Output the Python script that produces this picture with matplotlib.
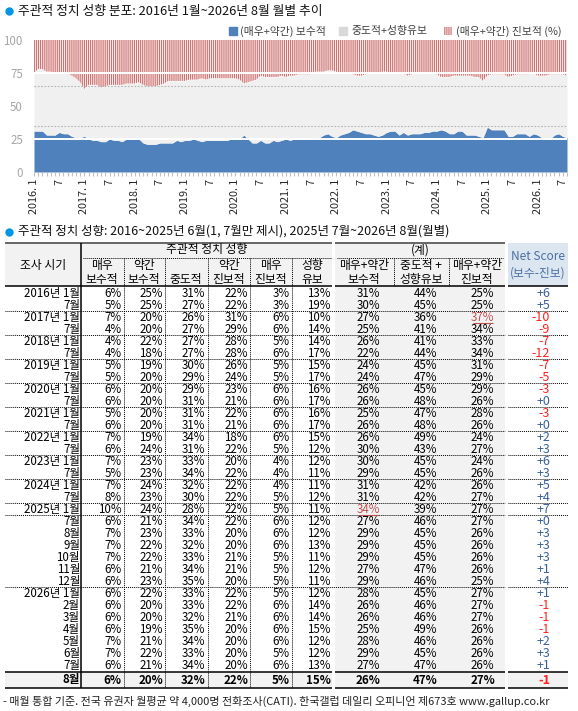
import numpy as np
import matplotlib.pyplot as plt
from matplotlib.patches import Rectangle

plt.rcParams['font.family'] = ['Noto Sans CJK KR', 'DejaVu Sans']
plt.rcParams['axes.unicode_minus'] = False
plt.rcParams['hatch.linewidth'] = 0.9

# ---- 월별 추이 (2016.1 ~ 2026.8), 그림에서 읽은 값 ----
start_year = 2016
cons_monthly = [
    31, 31, 31, 28, 28, 28, 30, 29, 29, 27, 26, 26,   # 2016
    27, 25, 24, 24, 23, 23, 25, 24, 24, 23, 25, 25,   # 2017
    26, 25, 22, 21, 21, 21, 22, 22, 22, 22, 24, 23,   # 2018
    24, 24, 25, 24, 23, 24, 24, 24, 24, 24, 24, 25,   # 2019
    26, 25, 28, 25, 22, 22, 24, 22, 22, 24, 23, 24,   # 2020
    25, 24, 25, 25, 26, 25, 26, 26, 26, 28, 29, 27,   # 2021
    26, 28, 29, 30, 32, 31, 30, 29, 29, 28, 27, 28,   # 2022
    30, 31, 31, 28, 30, 28, 29, 29, 29, 30, 30, 31,   # 2023
    31, 32, 31, 29, 29, 31, 31, 28, 28, 28, 27, 26,   # 2024
    34, 32, 32, 32, 32, 27, 27, 29, 29, 29, 27, 29,   # 2025
    28, 26, 26, 25, 28, 29, 27, 26,                   # 2026
]
prog_monthly = [
    25, 22, 22, 24, 24, 25, 25, 25, 25, 27, 29, 32,
    37, 34, 34, 34, 36, 35, 34, 34, 34, 34, 33, 33,
    33, 32, 34, 35, 35, 35, 34, 33, 31, 31, 31, 31,
    31, 30, 30, 30, 29, 30, 29, 29, 29, 29, 29, 29,
    29, 30, 33, 32, 31, 30, 27, 28, 28, 28, 28, 27,
    28, 27, 27, 26, 26, 26, 26, 24, 24, 24, 23, 23,
    24, 25, 25, 25, 26, 27, 27, 26, 25, 25, 25, 24,
    24, 25, 25, 25, 25, 27, 26, 25, 26, 25, 25, 25,
    26, 28, 28, 28, 27, 27, 27, 27, 27, 28, 28, 31,
    27, 26, 26, 26, 26, 28, 27, 26, 26, 26, 26, 25,
    27, 27, 27, 26, 26, 26, 26, 27,
]

# ---- 표 데이터 ----
periods = ['2016년 1월', '7월', '2017년 1월', '7월', '2018년 1월', '7월',
           '2019년 1월', '7월', '2020년 1월', '7월', '2021년 1월', '7월',
           '2022년 1월', '7월', '2023년 1월', '7월', '2024년 1월', '7월',
           '2025년 1월', '7월', '8월', '9월', '10월', '11월', '12월',
           '2026년 1월', '2월', '3월', '4월', '5월', '6월', '7월', '8월']
very_cons = [6, 5, 7, 4, 4, 4, 5, 5, 6, 6, 5, 6, 7, 6, 7, 5, 7, 8, 10, 6, 7, 7, 7, 6, 6, 6, 6, 6, 6, 7, 7, 6, 6]
some_cons = [25, 25, 20, 20, 22, 18, 19, 20, 20, 20, 20, 20, 19, 24, 23, 23, 24, 23, 24, 21, 23, 22, 22, 21, 23, 22, 20, 20, 19, 21, 22, 21, 20]
moderate = [31, 27, 26, 27, 27, 27, 30, 29, 29, 31, 31, 31, 34, 31, 33, 34, 32, 30, 28, 34, 33, 32, 33, 34, 35, 33, 33, 32, 35, 34, 33, 34, 32]
some_prog = [22, 22, 31, 29, 28, 28, 26, 24, 23, 21, 22, 21, 18, 22, 20, 22, 22, 22, 22, 22, 20, 20, 21, 21, 20, 22, 22, 21, 20, 20, 20, 20, 22]
very_prog = [3, 3, 6, 6, 5, 6, 5, 5, 6, 6, 6, 6, 6, 5, 4, 4, 4, 5, 5, 6, 6, 6, 5, 5, 5, 5, 6, 6, 6, 6, 5, 6, 5]
undecided = [13, 19, 10, 14, 14, 17, 15, 17, 16, 17, 16, 17, 15, 12, 12, 11, 11, 12, 11, 12, 12, 13, 11, 12, 11, 12, 14, 14, 15, 12, 12, 13, 15]
cons_sum = [31, 30, 27, 25, 26, 22, 24, 24, 26, 26, 25, 26, 26, 30, 30, 29, 31, 31, 34, 27, 29, 29, 29, 27, 29, 28, 26, 26, 25, 28, 29, 27, 26]
mid_sum = [44, 45, 36, 41, 41, 44, 45, 47, 45, 48, 47, 48, 49, 43, 45, 45, 42, 42, 39, 46, 45, 45, 45, 47, 46, 45, 46, 46, 49, 46, 45, 47, 47]
prog_sum = [25, 25, 37, 34, 33, 34, 31, 29, 29, 26, 28, 26, 24, 27, 24, 26, 26, 27, 27, 27, 26, 26, 26, 26, 25, 27, 27, 27, 26, 26, 26, 26, 27]
net_score = [6, 5, -10, -9, -7, -12, -7, -5, -3, 0, -3, 0, 2, 3, 6, 3, 5, 4, 7, 0, 3, 3, 3, 1, 4, 1, -1, -1, -1, 2, 3, 1, -1]

BLUE = '#4f81bd'
MIDGREY = '#f0f0f0'
RED = '#cf7474'
DOT = '#0096e6'
W, H = 578, 711

fig = plt.figure(figsize=(W / 100, H / 100), dpi=100)

# ---- 영역 차트 ----
ax = fig.add_axes([34 / W, 1 - 172 / H, (567 - 34) / W, (172 - 40) / H])
x = np.arange(len(cons_monthly))
cons = np.array(cons_monthly)
prog = np.array(prog_monthly)
ax.fill_between(x, 0, cons, color=BLUE, lw=0)
ax.fill_between(x, cons, 100 - prog, color=MIDGREY, lw=0)
ax.fill_between(x, 100 - prog, 100, facecolor='white', edgecolor=RED, hatch='|' * 8, lw=0)
for v in (35, 65):
    ax.axhline(v, color='#b5b5b5', lw=0.8, ls=(0, (1.5, 1.5)), zorder=3)
for v in (25, 75):
    ax.axhline(v, color='white', lw=1.4, zorder=3)

ax.set_xlim(0, len(x) - 1)
ax.set_ylim(0, 100)
for s in ax.spines.values():
    s.set_visible(False)
major = [i for i in x if i % 6 == 0]
major_lbl = [f'{start_year + i // 12}. 1' if i % 12 == 0 else '7' for i in major]
ax.set_xticks(major, major_lbl, rotation=90, fontsize=7.8, color='#262626')
ax.set_xticks(x, minor=True)
ax.tick_params(axis='x', which='both', length=3, color='#c0c0c0', width=0.8, pad=2)
ax.set_yticks([0, 25, 50, 75, 100])
ax.tick_params(axis='y', length=0, pad=8, labelsize=8.3, labelcolor='#a6a6a6')

# ---- 제목, 범례, 표 (픽셀 좌표 오버레이) ----
ov = fig.add_axes([0, 0, 1, 1])
ov.set_xlim(0, W)
ov.set_ylim(H, 0)
ov.axis('off')

ov.plot(8.5, 11, 'o', ms=6, color=DOT, mec='none')
ov.text(18, 11, '주관적 정치 성향 분포: 2016년 1월~2026년 8월 월별 추이',
        fontsize=9.2, va='center', color='#111111')

leg = [('(매우+약간) 보수적', 228.5, dict(color=BLUE)),
       ('중도적+성향유보', 339, dict(color='#d9d9d9')),
       ('(매우+약간) 진보적 (%)', 444, dict(facecolor='white', edgecolor=RED, hatch='|' * 8, lw=0))]
for lbl, lx, kw in leg:
    ov.add_patch(Rectangle((lx, 27), 8, 8, **kw))
    ov.text(lx + 12, 31, lbl, fontsize=7.8, va='center', color='#404040')

ov.plot(8.5, 231.5, 'o', ms=6, color=DOT, mec='none')
ov.text(18, 231.5, '주관적 정치 성향: 2016~2025년 6월(1, 7월만 제시), 2025년 7월~2026년 8월(월별)',
        fontsize=9, va='center', color='#111111')

fs = 8.3
hfs = 8.5
top, hdr_b = 243, 286.3
row_y = [293.3 + 12 * i for i in range(len(periods) - 1)] + [680]
last_top, bottom = 671.7, 688.3
blocks = [(5, 332), (335, 505), (508, 568)]
col_sep = [123.5, 165, 207.5, 250, 291.5]
sum_sep = [393.5, 448.5]
dotted = dict(color='black', lw=0.7, ls=(0, (1, 1)))

# 배경
ov.add_patch(Rectangle((5, top), 327, hdr_b - top, color='#f2f2f2', lw=0))
ov.add_patch(Rectangle((335, top), 170, bottom - top, color='#f2f2f2', lw=0))
ov.add_patch(Rectangle((508, top), 60, hdr_b - top, color='#dce6f1', lw=0))
for bx0, bx1 in blocks:
    ov.add_patch(Rectangle((bx0, last_top), bx1 - bx0, bottom - last_top, color='#f2f2f2', lw=0))

# 선
for bx0, bx1 in blocks[:2]:
    ov.hlines(top, bx0, bx1, color='#404040', lw=1.1)
for bx0, bx1 in blocks:
    ov.hlines([hdr_b, last_top, bottom], bx0, bx1, color='black', lw=1.1)
ov.vlines(81, top, bottom, color='black', lw=1.1)
ov.hlines(257.5, 83, 331, **dotted)
ov.hlines(257.5, 337, 503, **dotted)
ov.vlines(col_sep, 257.5, bottom, **dotted)
ov.vlines(sum_sep, 257.5, hdr_b, **dotted)
sep_after = [1, 3, 5, 7, 9, 11, 13, 15, 17, 18, 24]
for i in sep_after:
    for bx0, bx1 in [(5, 505), (508, 568)]:
        ov.hlines(row_y[i] + 6, bx0, bx1, **dotted)

# 헤더 텍스트
ov.text(43, 265, '조사 시기', fontsize=hfs, ha='center', va='center')
ov.text(207, 250, '주관적 정치 성향', fontsize=hfs, ha='center', va='center')
ov.text(420, 250, '(계)', fontsize=hfs, ha='center', va='center')
hdr_cols = [(102, '매우', '보수적'), (144, '약간', '보수적'), (186, '', '중도적'),
            (229, '약간', '진보적'), (271, '매우', '진보적'), (312, '성향', '유보'),
            (364, '매우+약간', '보수적'), (421, '중도적 +', '성향유보'), (477, '매우+약간', '진보적')]
for cx, l1, l2 in hdr_cols:
    ov.text(cx, 265, l1, fontsize=hfs, ha='center', va='center')
    ov.text(cx, 280, l2, fontsize=hfs, ha='center', va='center')
ov.text(538, 257, 'Net Score', fontsize=hfs, ha='center', va='center', color='#4a6fa0')
ov.text(538, 273, '(보수-진보)', fontsize=hfs, ha='center', va='center', color='#4a6fa0')

# 본문
ind_cols = [very_cons, some_cons, moderate, some_prog, very_prog, undecided]
ind_right = [121.5, 163, 205.5, 248, 289.5, 331]
sum_cols = [cons_sum, mid_sum, prog_sum]
sum_cx = [368.5, 425.5, 482.5]
hi_cons = int(np.argmax(cons_sum))
hi_prog = int(np.argmax(prog_sum))
for i, lbl in enumerate(periods):
    y = row_y[i]
    wt = 'bold' if i == len(periods) - 1 else 'normal'
    ov.text(80, y, lbl, fontsize=fs, ha='right', va='center', weight=wt)
    for col, xr in zip(ind_cols, ind_right):
        ov.text(xr, y, f'{col[i]}%', fontsize=fs, ha='right', va='center', weight=wt)
    for k, (col, cx) in enumerate(zip(sum_cols, sum_cx)):
        hi = (k == 0 and i == hi_cons) or (k == 2 and i == hi_prog)
        c = '#c0504d' if hi else 'black'
        ov.text(cx, y, f'{col[i]}%', fontsize=fs, ha='center', va='center', weight=wt, color=c)
        if hi:
            ov.hlines(y + 6, cx - 10, cx + 10, color='#c0504d', lw=0.8)
    n = net_score[i]
    ov.text(550, y, f'+{n}' if n >= 0 else f'-{abs(n)}', fontsize=9, ha='right', va='center',
            weight=wt, color='#3a5f9e' if n >= 0 else '#ff2020')

ov.text(3, 701, '- 매월 통합 기준. 전국 유권자 월평균 약 4,000명 전화조사(CATI). 한국갤럽 데일리 오피니언 제673호 www.gallup.co.kr',
        fontsize=7.95, va='center', color='#222222')

fig.savefig('out.png', dpi=100)
